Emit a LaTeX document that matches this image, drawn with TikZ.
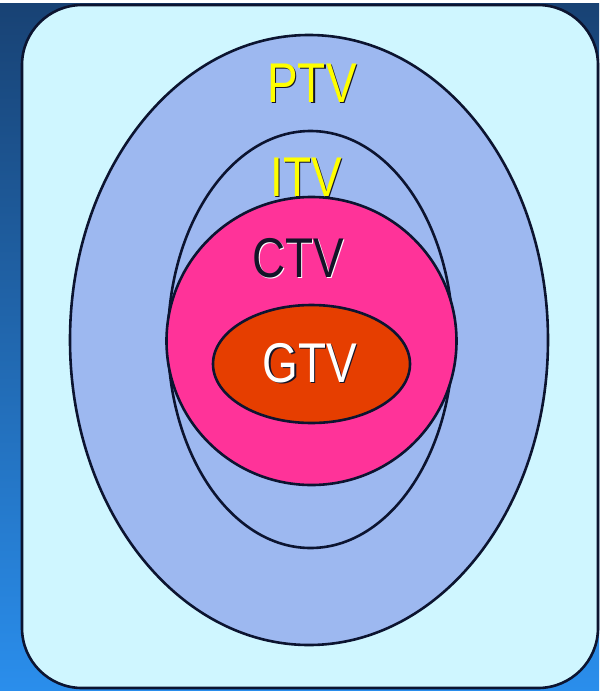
\documentclass[tikz,border=0pt]{standalone}
\usepackage{fontspec}
\setmainfont{Liberation Sans}
\usepackage{graphicx}
\definecolor{boxfill}{RGB}{207,246,255}
\definecolor{ptvfill}{RGB}{157,184,240}
\definecolor{ctvfill}{RGB}{255,51,153}
\definecolor{gtvfill}{RGB}{230,62,0}
\definecolor{outl}{RGB}{12,20,48}
\definecolor{bgtop}{RGB}{24,66,116}
\definecolor{bgbot}{RGB}{42,142,236}
\definecolor{lblyellow}{RGB}{255,255,0}
\definecolor{lbldark}{RGB}{20,20,40}
\newcommand\shtext[3]{\scalebox{0.82}[1]{\rlap{\smash{\hspace{1.6pt}\raisebox{-1.6pt}{\color{#2}#3}}}{\color{#1}#3}}}
\tikzset{
  region/.style={draw=outl, line width=2.6pt},
  lbl/.style={inner sep=0pt, font=\fontsize{56}{60}\selectfont}
}
\begin{document}
\begin{tikzpicture}[x=1pt,y=-1pt]
\useasboundingbox (0,0) rectangle (608,691);
\fill[white] (0,0) rectangle (608,691);
\shade[top color=bgtop, bottom color=bgbot] (0,3) rectangle (599,691);
\draw[region, fill=boxfill, rounded corners=60pt] (22,5) rectangle (598,688);
\draw[region, fill=ptvfill] (309,340) ellipse [x radius=239, y radius=305];
\draw[region, fill=ptvfill] (310.5,339.5) ellipse [x radius=142.5, y radius=208.5];
\draw[region, fill=ctvfill] (311.5,341) ellipse [x radius=145, y radius=144];
\draw[region, fill=gtvfill] (311.5,364) ellipse [x radius=98.5, y radius=59];
\node[lbl] (ptv) at (312,83) {\shtext{lblyellow}{lbldark}{PTV}};
\node[lbl] (itv) at (306,177) {\shtext{lblyellow}{lbldark}{ITV}};
\node[lbl] (ctv) at (298,258) {\shtext{lbldark}{white}{CTV}};
\node[lbl] (gtv) at (310,363) {\shtext{white}{lbldark}{GTV}};
\end{tikzpicture}
\end{document}
